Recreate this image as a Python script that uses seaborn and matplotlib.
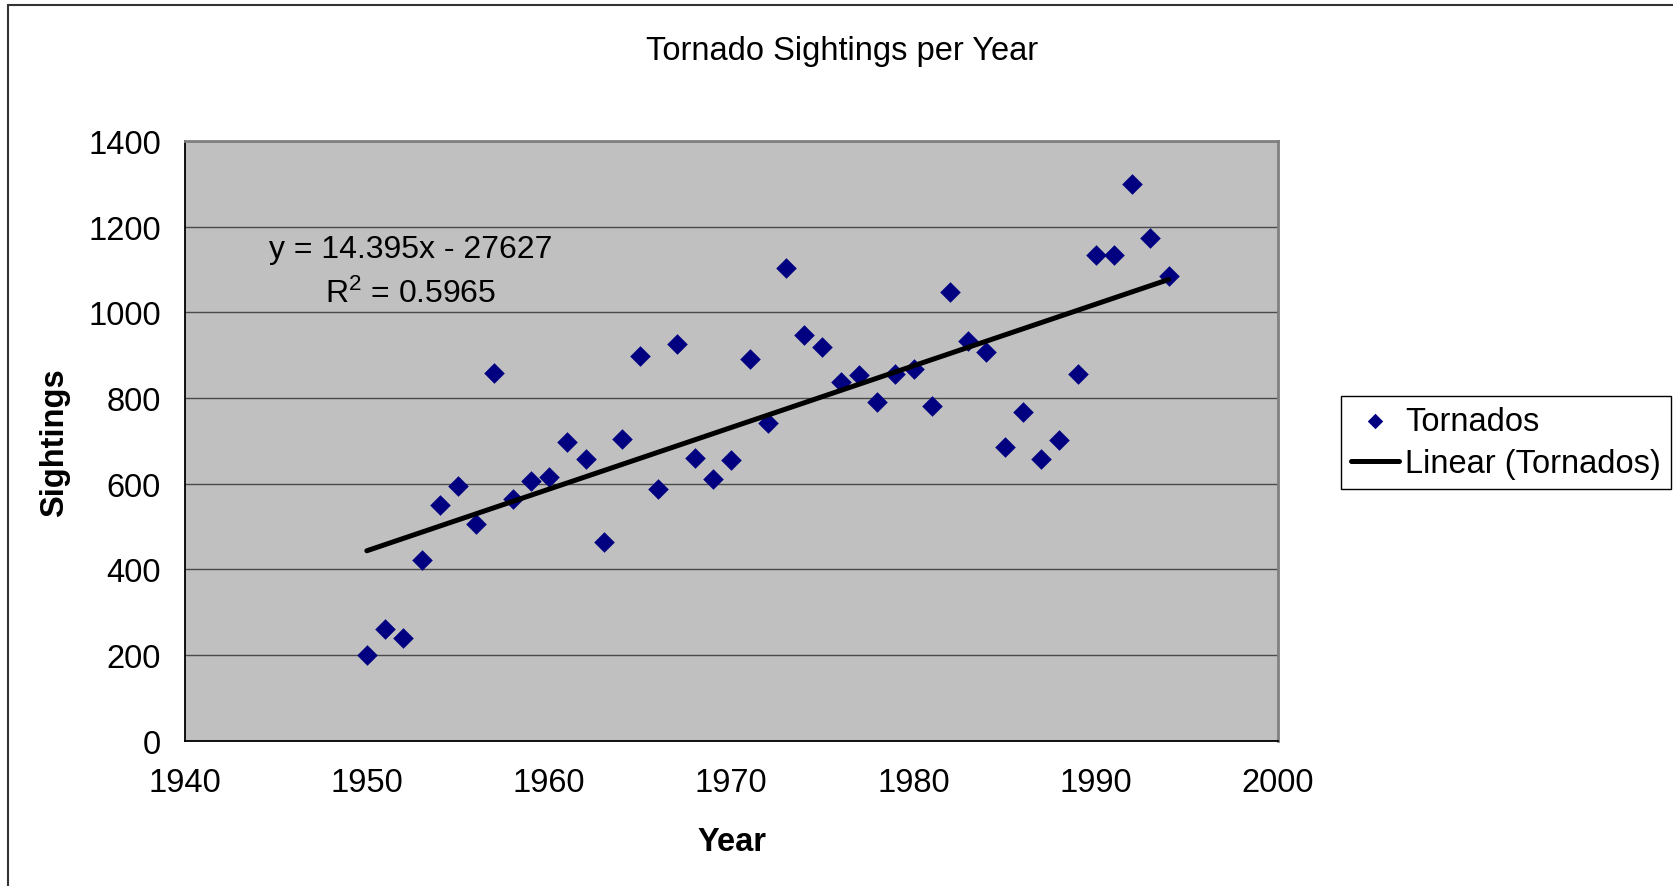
import matplotlib
matplotlib.use("Agg")
import matplotlib.pyplot as plt
from matplotlib.patches import Rectangle
import seaborn as sns
import pandas as pd

# Annual tornado sightings
years = [1950, 1951, 1952, 1953, 1954, 1955, 1956, 1957, 1958, 1959,
         1960, 1961, 1962, 1963, 1964, 1965, 1966, 1967, 1968, 1969,
         1970, 1971, 1972, 1973, 1974, 1975, 1976, 1977, 1978, 1979,
         1980, 1981, 1982, 1983, 1984, 1985, 1986, 1987, 1988, 1989,
         1990, 1991, 1992, 1993, 1994]
sightings = [201, 260, 240, 422, 551, 594, 505, 859, 565, 605,
             616, 698, 658, 464, 705, 898, 587, 927, 661, 610,
             655, 891, 742, 1103, 948, 920, 837, 854, 790, 856,
             868, 782, 1048, 934, 908, 685, 767, 657, 703, 856,
             1134, 1133, 1299, 1174, 1084]

# Linear trend as reported on the chart
slope = 14.395
intercept = -27627
r_squared = 0.5965

x_ticks = [1940, 1950, 1960, 1970, 1980, 1990, 2000]
y_ticks = [0, 200, 400, 600, 800, 1000, 1200, 1400]

sns.set_style("white", {
    "axes.facecolor": "#C0C0C0",
    "grid.color": "#4a4a4a",
})
plt.rcParams["font.family"] = ["Liberation Sans", "DejaVu Sans"]
plt.rcParams["text.color"] = "black"
plt.rcParams["axes.labelcolor"] = "black"
plt.rcParams["xtick.color"] = "black"
plt.rcParams["ytick.color"] = "black"
plt.rcParams["mathtext.fontset"] = "custom"
plt.rcParams["mathtext.rm"] = "Liberation Sans"
plt.rcParams["mathtext.it"] = "Liberation Sans:italic"
plt.rcParams["mathtext.bf"] = "Liberation Sans:bold"

FS = 23.5
W, H = 1673, 887
fig = plt.figure(figsize=(W / 100, H / 100), dpi=100)
fig.patch.set_facecolor("white")

left, right, top, bottom = 184.6, 1278.0, 142.0, 741.6
ax = fig.add_axes([left / W, 1 - bottom / H, (right - left) / W, (bottom - top) / H])

df = pd.DataFrame({"Year": years, "Sightings": sightings})
trend_x = [min(years), max(years)]
trend = pd.DataFrame({"Year": trend_x, "Fit": [slope * v + intercept for v in trend_x]})

sns.scatterplot(data=df, x="Year", y="Sightings", ax=ax, marker="D", s=110,
                color="#000080", edgecolor="#000080", linewidth=0,
                label="Tornados", zorder=3)
sns.lineplot(data=trend, x="Year", y="Fit", ax=ax, color="black", lw=3.6,
             label="Linear (Tornados)", zorder=4, solid_capstyle="round")

ax.set_xlim(1940, 2000)
ax.set_ylim(0, 1400)
ax.set_xticks(x_ticks)
ax.set_yticks(y_ticks)
ax.set_xticklabels([str(t) for t in x_ticks], fontsize=FS)
ax.set_yticklabels([str(t) for t in y_ticks], fontsize=FS)
ax.tick_params(axis="both", direction="out", length=7, width=1, color="black",
               labelcolor="black")
ax.tick_params(axis="x", pad=12)
ax.tick_params(axis="y", pad=10)
ax.yaxis.grid(True, color="#4a4a4a", lw=1.0)
ax.xaxis.grid(False)
ax.set_axisbelow(True)
ax.set_xlabel("")
ax.set_ylabel("")

for side in ("left", "bottom"):
    ax.spines[side].set_color("black")
    ax.spines[side].set_linewidth(1.3)
for side in ("top", "right"):
    ax.spines[side].set_color("#808080")
    ax.spines[side].set_linewidth(2.0)

# Trend equation and fit quality
eq_x = 1952.4
ax.text(eq_x, 1130, f"y = {slope}x - {abs(intercept)}", ha="center",
        va="baseline", fontsize=FS - 0.5, color="black")
ax.text(eq_x, 1025, f"R$^2$ = {r_squared}", ha="center",
        va="baseline", fontsize=FS - 0.5, color="black")

fig.text(842 / W, 1 - 60 / H, "Tornado Sightings per Year", ha="center",
         va="baseline", fontsize=FS, color="black")
fig.text(732 / W, 1 - 843 / H, "Year", ha="center", va="center",
         fontsize=FS, fontweight="bold", color="black")
fig.text(55 / W, 1 - 443 / H, "Sightings", ha="center", va="center",
         rotation=90, fontsize=FS, fontweight="bold", color="black")

leg = ax.legend(loc="upper left", bbox_to_anchor=(1341 / W, 1 - 397 / H),
                bbox_transform=fig.transFigure, fontsize=FS, frameon=True,
                fancybox=False, edgecolor="black", facecolor="white",
                framealpha=1, borderaxespad=0, borderpad=0.3,
                handlelength=1.47, handletextpad=0.2, labelspacing=0.35,
                markerscale=0.75)
leg.get_frame().set_linewidth(1.0)
for t in leg.get_texts():
    t.set_color("black")

# Outer chart border
fig.patches.append(Rectangle((8 / W, -0.05), 1.1, 1 - 6 / H + 0.05,
                             transform=fig.transFigure, fill=False,
                             edgecolor="#333333", lw=1.5, zorder=0))

fig.savefig("out.png", dpi=100, facecolor="white")
